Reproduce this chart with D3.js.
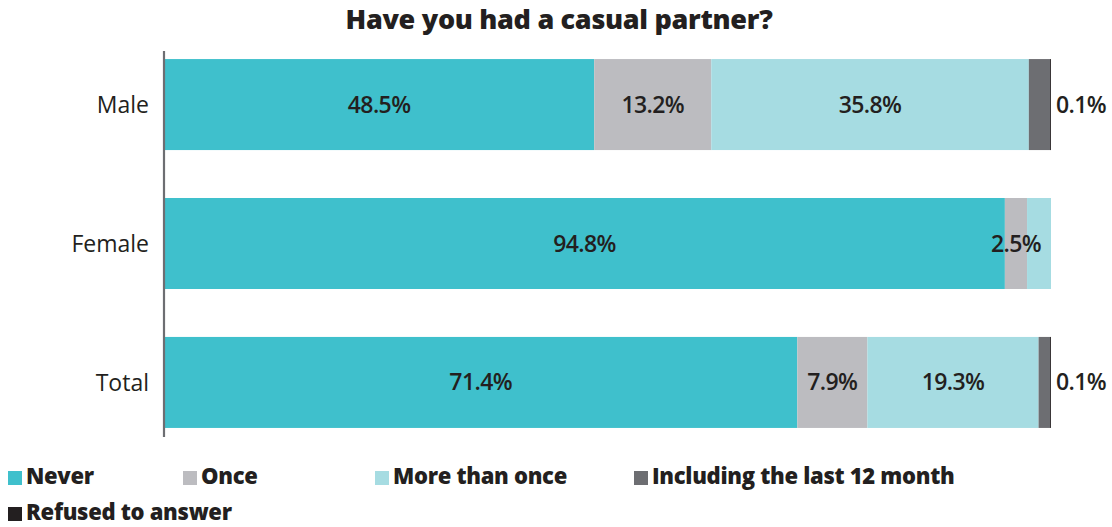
<!DOCTYPE html>
<html>
<head>
<meta charset="utf-8">
<script src="https://cdn.jsdelivr.net/npm/d3@7"></script>
<style>
  html, body { margin: 0; padding: 0; background: #ffffff; }
  svg { display: block; font-family: "Open Sans", "Noto Sans", sans-serif; }
</style>
</head>
<body>
<svg id="chart" width="1112" height="527"></svg>
<script>
// Survey answers, percent of respondents per group
const categories = ["Male", "Female", "Total"];
const never = [48.5, 94.8, 71.4];
const once = [13.2, 2.5, 7.9];
const moreThanOnce = [35.8, 2.7, 19.3];
const last12Months = [2.4, 0, 1.3];
const refused = [0.1, 0, 0.1];

const seriesNames = ["Never", "Once", "More than once", "Including the last 12 month", "Refused to answer"];
const seriesValues = [never, once, moreThanOnce, last12Months, refused];
// which categories carry a value label for each series
const labelled = [
  ["Male", "Female", "Total"],
  ["Male", "Female", "Total"],
  ["Male", "Total"],
  [],
  ["Male", "Total"]
];

const colors = ["#3fc0cc", "#bcbcc0", "#a6dce2", "#6d6e72", "#231f20"];
const textColor = "#231f20";

const svg = d3.select("#chart");
const margin = { left: 164, right: 61 };
const W = 1112;

const x = d3.scaleLinear().domain([0, 100]).range([margin.left, W - margin.right]);
const y = d3.scaleBand().domain(categories).range([51, 436])
  .paddingInner(0.345).paddingOuter(0.058);

// stack the series per category
const rows = categories.map((c, i) => {
  const r = { category: c };
  seriesNames.forEach((s, k) => { r[s] = seriesValues[k][i]; });
  return r;
});
const stacked = d3.stack().keys(seriesNames)(rows);

// title
svg.append("text")
  .attr("x", 559)
  .attr("y", 29)
  .attr("text-anchor", "middle")
  .attr("font-size", 27)
  .attr("font-weight", 800)
  .attr("letter-spacing", -0.3)
  .attr("fill", textColor)
  .text("Have you had a casual partner?");

// bars
const layers = svg.append("g").selectAll("g")
  .data(stacked)
  .join("g")
  .attr("fill", (d, k) => colors[k]);

layers.selectAll("rect")
  .data(d => d)
  .join("rect")
  .attr("x", d => x(d[0]))
  .attr("y", d => y(d.data.category))
  .attr("width", d => Math.max(0, x(d[1]) - x(d[0])))
  .attr("height", y.bandwidth());

// value labels
const labelG = svg.append("g")
  .attr("font-size", 23)
  .attr("font-weight", 600)
  .attr("fill", textColor);

stacked.forEach((layer, k) => {
  const isOutside = k === seriesNames.length - 1;
  layer.forEach(d => {
    const cat = d.data.category;
    if (!labelled[k].includes(cat)) return;
    const v = d.data[layer.key];
    labelG.append("text")
      .attr("x", isOutside ? x(100) + 5 : (x(d[0]) + x(d[1])) / 2)
      .attr("y", y(cat) + y.bandwidth() / 2)
      .attr("dy", "0.35em")
      .attr("text-anchor", isOutside ? "start" : "middle")
      .attr("letter-spacing", -0.6)
      .text(d3.format(".1f")(v) + "%");
  });
});

// category axis
const yAxis = svg.append("g")
  .attr("transform", `translate(${margin.left},0)`)
  .call(d3.axisLeft(y).tickSize(0).tickPadding(15));
yAxis.select(".domain")
  .attr("d", `M0,51V437`)
  .attr("stroke", "#6d6e72")
  .attr("stroke-width", 2.2);
yAxis.selectAll(".tick text")
  .attr("font-family", "\"Open Sans\", sans-serif")
  .attr("font-size", 23)
  .attr("fill", textColor)
  .attr("dy", "0.35em");

// legend
const legendPos = [[8, 0], [183, 0], [375, 0], [634, 0], [8, 1]];
const legend = svg.append("g")
  .selectAll("g")
  .data(seriesNames)
  .join("g")
  .attr("transform", (d, k) => `translate(${legendPos[k][0]},${471 + legendPos[k][1] * 36})`);

legend.append("rect")
  .attr("width", 14)
  .attr("height", 14)
  .attr("y", 0)
  .attr("fill", (d, k) => colors[k]);

legend.append("text")
  .attr("x", 18)
  .attr("y", 13)
  .attr("font-size", 22)
  .attr("font-weight", 800)
  .attr("fill", textColor)
  .attr("letter-spacing", -0.3)
  .text(d => d);
</script>
</body>
</html>
